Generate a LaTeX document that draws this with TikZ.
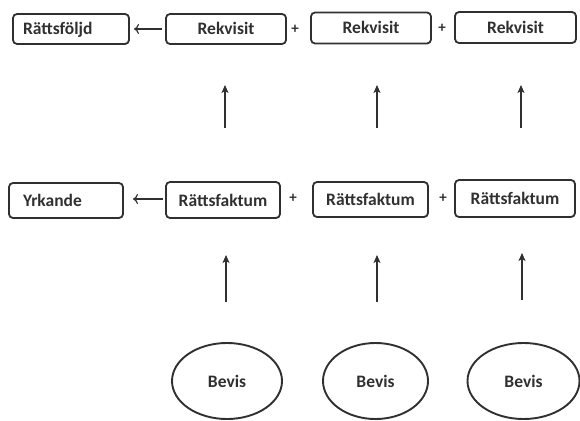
\documentclass[tikz,border=0pt]{standalone}
\usepackage{fontspec}
\setmainfont{Carlito}
\usetikzlibrary{arrows.meta,shapes.geometric}
\definecolor{ink}{HTML}{303030}
\begin{document}
\begin{tikzpicture}[x=1pt,y=-1pt,
  every node/.style={font=\fontsize{17.5}{20}\selectfont\bfseries,text=ink},
  box/.style={draw=ink,line width=1.8pt,rounded corners=4pt,inner sep=0pt,minimum height=#1,text height=13.5pt,text depth=1.5pt},
  box/.default=31pt,
  oval/.style={draw=ink,line width=1.9pt,ellipse,inner sep=0pt,text height=13.5pt,text depth=1.5pt},
  plus/.style={inner sep=0pt,font=\fontsize{15}{16}\selectfont\bfseries},
  uparrow/.style={draw=ink,line width=1.1pt,-{Stealth[length=8pt,width=7pt,inset=2pt]}},
  leftarrow/.style={draw=ink,line width=1.2pt,-{To[length=5pt,width=10pt]}}]
\useasboundingbox (0,0) rectangle (580,420);
% top row
\node[box=30pt,text width=96pt,inner xsep=10pt,align=left] (rf) at (71,29) {Rättsföljd};
\node[box=30pt,minimum width=120pt] (rk1) at (226,29) {Rekvisit};
\node[box=31pt,minimum width=120pt] (rk2) at (371,28) {Rekvisit};
\node[box=31pt,minimum width=121pt] (rk3) at (515.5,27.5) {Rekvisit};
\node[plus] (p1) at (295,29) {+};
\node[plus] (p2) at (442,28) {+};
% middle row
\node[box=35pt,text width=86pt,inner xsep=14pt,align=left] (yr) at (66,200.5) {Yrkande};
\node[box=36pt,minimum width=114pt] (fa1) at (223,200) {Rättsfaktum};
\node[box=35pt,minimum width=115pt] (fa2) at (370.5,199.5) {Rättsfaktum};
\node[box=37pt,minimum width=120pt] (fa3) at (515,198.5) {Rättsfaktum};
\node[plus] (p3) at (293,198) {+};
\node[plus] (p4) at (443,198) {+};
% ellipses
\node[oval,minimum width=110pt,minimum height=76pt] (b1) at (227,381) {Bevis};
\node[oval,minimum width=105pt,minimum height=76pt] (b2) at (375.5,381) {Bevis};
\node[oval,minimum width=112pt,minimum height=76pt] (b3) at (523.5,381) {Bevis};
% arrow end points
\coordinate (h1s) at (162,29); \coordinate (h1e) at (134,29);
\coordinate (h2s) at (163,199); \coordinate (h2e) at (133,199);
\coordinate (u1s) at (225,128); \coordinate (u1e) at (225,85);
\coordinate (u2s) at (377,128); \coordinate (u2e) at (377,85);
\coordinate (u3s) at (521,128); \coordinate (u3e) at (521,85);
\coordinate (v1s) at (226,302); \coordinate (v1e) at (226,255);
\coordinate (v2s) at (377,302); \coordinate (v2e) at (377,255);
\coordinate (v3s) at (522,300); \coordinate (v3e) at (522,253);
\draw[leftarrow] (h1s) -- (h1e);
\draw[leftarrow] (h2s) -- (h2e);
\foreach \a in {u1,u2,u3,v1,v2,v3} \draw[uparrow] (\a s) -- (\a e);
\end{tikzpicture}
\end{document}
